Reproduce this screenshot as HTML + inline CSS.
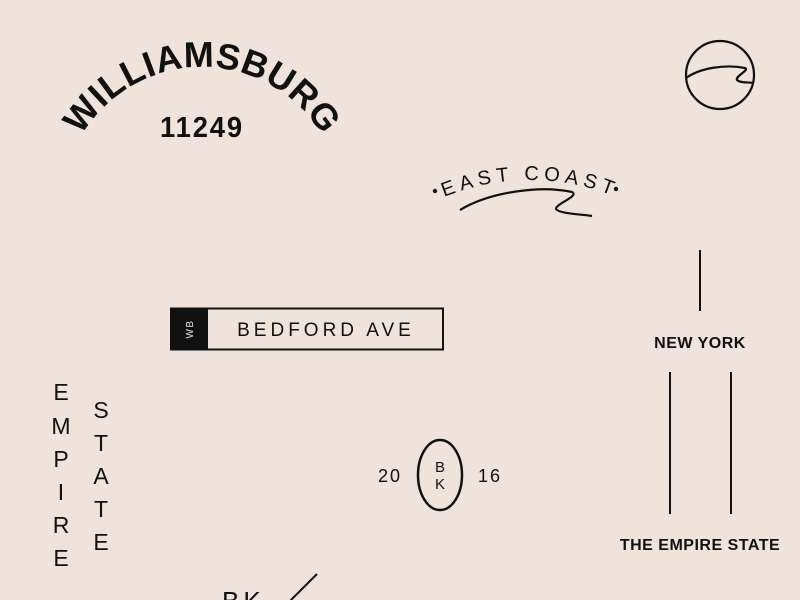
<!DOCTYPE html>
<html><head><meta charset="utf-8"><style>
html,body{margin:0;padding:0;background:#efe3db;}
svg{display:block;}
text{font-family:"Liberation Sans",sans-serif;fill:#111;}
</style></head><body>
<svg width="800" height="600" viewBox="0 0 800 600" xmlns="http://www.w3.org/2000/svg">
<rect width="800" height="600" fill="#efe3db"/>
<defs>
<path id="arcW" d="M 62,207 A 140 140 0 0 1 342,207"/>
<path id="arcE" d="M 305,405 A 225 225 0 0 1 755,405"/>
</defs>
<text font-size="36" font-weight="bold" letter-spacing="0.5"><textPath href="#arcW" startOffset="50%" text-anchor="middle">WILLIAMSBURG</textPath></text>
<text x="202" y="137" font-size="29" font-weight="bold" text-anchor="middle" textLength="84" lengthAdjust="spacingAndGlyphs" letter-spacing="2">11249</text>

<circle cx="720" cy="75" r="34" fill="none" stroke="#111" stroke-width="2.2"/>
<path d="M686,78 C700,68 725,64 745,68 C750,70 735,76 737,80 C740,83 748,82 753,83" fill="none" stroke="#111" stroke-width="2.2"/>

<text font-size="20" letter-spacing="5"><textPath href="#arcE" startOffset="50%" text-anchor="middle">EAST COAST</textPath></text>
<circle cx="435" cy="191" r="2.2" fill="#111"/>
<circle cx="616" cy="189" r="2.2" fill="#111"/>
<path d="M460,210 C490,192 540,185 572,192 C580,196 555,204 556,209 C560,214 580,214 592,216" fill="none" stroke="#111" stroke-width="2.2"/>

<rect x="171" y="308.5" width="272" height="41" fill="none" stroke="#111" stroke-width="2"/>
<rect x="170" y="308" width="38" height="42" fill="#111"/>
<text x="0" y="0" font-size="10" style="fill:#efe3db" letter-spacing="1.5" text-anchor="middle" transform="translate(193,329) rotate(-90)">WB</text>
<text x="326" y="336" font-size="19" letter-spacing="4" text-anchor="middle">BEDFORD AVE</text>

<line x1="700" y1="250" x2="700" y2="311" stroke="#111" stroke-width="2"/>
<text x="700" y="348" font-size="16" font-weight="bold" text-anchor="middle" letter-spacing="0.5">NEW YORK</text>
<line x1="670" y1="372" x2="670" y2="514" stroke="#111" stroke-width="2"/>
<line x1="731" y1="372" x2="731" y2="514" stroke="#111" stroke-width="2"/>
<text x="700" y="550" font-size="16" font-weight="bold" text-anchor="middle" letter-spacing="0.5">THE EMPIRE STATE</text>

<g font-size="23" text-anchor="middle">
<text x="61" y="400">E</text><text x="61" y="434">M</text><text x="61" y="467">P</text>
<text x="61" y="500">I</text><text x="61" y="533">R</text><text x="61" y="566">E</text>
<text x="101" y="418">S</text><text x="101" y="451">T</text><text x="101" y="484">A</text>
<text x="101" y="517">T</text><text x="101" y="550">E</text>
</g>

<ellipse cx="440" cy="475" rx="22" ry="35" fill="none" stroke="#111" stroke-width="2.5"/>
<text x="390" y="482" font-size="18" text-anchor="middle" letter-spacing="2">20</text>
<text x="490" y="482" font-size="18" text-anchor="middle" letter-spacing="2">16</text>
<text x="440" y="472" font-size="15" text-anchor="middle">B</text>
<text x="440" y="489" font-size="15" text-anchor="middle">K</text>

<text x="222" y="610" font-size="26" letter-spacing="4">BK</text>
<line x1="317" y1="574" x2="289" y2="602" stroke="#111" stroke-width="2"/>
</svg>
</body></html>
